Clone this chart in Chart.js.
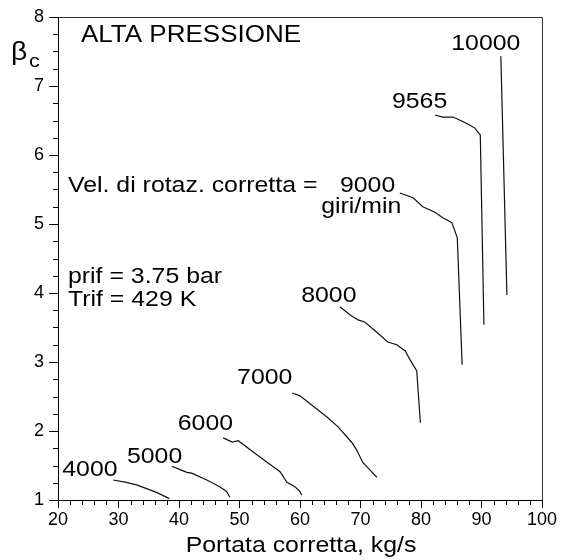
<!DOCTYPE html>
<html>
<head>
<meta charset="utf-8">
<script src="https://cdn.jsdelivr.net/npm/chart.js@4.4.0/dist/chart.umd.min.js"></script>
<style>
    body { margin: 0; background: #fff; }
    #wrap { width: 561px; height: 560px; }
</style>
</head>
<body>
<div id="wrap"><canvas id="chart" width="561" height="560"></canvas></div>
<script>
// corrected speed lines (giri/min)
const speeds = [4000, 5000, 6000, 7000, 8000, 9000, 9565, 10000];

const flow4000 = [29.1, 31.1, 33.0, 36.3, 38.4];
const beta4000 = [1.29, 1.26, 1.22, 1.11, 1.02];

const flow5000 = [38.8, 40.5, 41.3, 42.1, 44.6, 46.8, 47.9, 48.4];
const beta5000 = [1.49, 1.43, 1.40, 1.39, 1.29, 1.19, 1.12, 1.04];

const flow6000 = [47.3, 48.8, 49.8, 52.2, 54.5, 56.7, 57.8, 59.2, 60.0, 60.3];
const beta6000 = [1.90, 1.84, 1.86, 1.70, 1.55, 1.41, 1.26, 1.19, 1.12, 1.07];

const flow7000 = [58.7, 60.0, 62.2, 64.5, 66.3, 68.6, 69.4, 70.4, 71.4, 72.7];
const beta7000 = [2.55, 2.51, 2.36, 2.20, 2.06, 1.83, 1.72, 1.54, 1.45, 1.33];

const flow8000 = [66.6, 68.3, 69.6, 70.7, 72.7, 74.5, 76.0, 77.4, 78.2, 79.3, 79.6, 79.9];
const beta8000 = [3.80, 3.68, 3.61, 3.58, 3.43, 3.29, 3.25, 3.16, 3.03, 2.87, 2.49, 2.12];

const flow9000 = [76.5, 78.7, 80.3, 82.3, 83.6, 85.1, 86.0, 86.8];
const beta9000 = [5.45, 5.38, 5.25, 5.17, 5.09, 5.02, 4.80, 2.96];

const flow9565 = [82.3, 83.6, 85.3, 86.8, 88.1, 88.9, 89.8, 90.4];
const beta9565 = [6.58, 6.55, 6.55, 6.49, 6.43, 6.39, 6.29, 3.54];

const flow10000 = [93.2, 94.2];
const beta10000 = [7.43, 3.97];

const flows = [flow4000, flow5000, flow6000, flow7000, flow8000, flow9000, flow9565, flow10000];
const betas = [beta4000, beta5000, beta6000, beta7000, beta8000, beta9000, beta9565, beta10000];

// where each speed label sits (data units, left / baseline)
const labelFlow = [20.7, 31.4, 39.8, 49.6, 60.2, 66.6, 75.2, 85.0];
const labelBeta = [1.35, 1.54, 2.01, 2.68, 3.87, 5.46, 6.68, 7.52];

const FONT = '"Liberation Sans", Arial, sans-serif';
const STRETCH = 1.13;

const toPoints = (xs, ys) => xs.map((v, i) => ({ x: v, y: ys[i] }));

const datasets = speeds.map((s, i) => ({
    label: String(s),
    data: toPoints(flows[i], betas[i]),
    showLine: true,
    borderColor: '#111',
    borderWidth: 1.2,
    pointRadius: 0,
    tension: 0,
}));

const drawText = (ctx, str, px, py, size, align) => {
    ctx.save();
    ctx.font = `${size}px ${FONT}`;
    ctx.fillStyle = '#000';
    ctx.textBaseline = 'alphabetic';
    ctx.translate(px, py);
    ctx.scale(STRETCH, 1);
    let w = align === 'center' ? ctx.measureText(str).width / 2 : 0;
    ctx.fillText(str, -w, 0);
    ctx.restore();
};

const mapDecor = {
    id: 'mapDecor',
    afterDraw(chart) {
        const { ctx, chartArea: area, scales: { x, y } } = chart;

        // frame top and right
        ctx.save();
        ctx.strokeStyle = '#333';
        ctx.lineWidth = 1;
        ctx.beginPath();
        ctx.moveTo(area.left, area.top + 0.5);
        ctx.lineTo(area.right + 0.5, area.top + 0.5);
        ctx.lineTo(area.right + 0.5, area.bottom);
        ctx.stroke();

        // minor ticks
        ctx.strokeStyle = '#000';
        ctx.beginPath();
        for (let v = 22; v < 100; v += 2) {
            if (v % 10 === 0) continue;
            const px = Math.round(x.getPixelForValue(v)) + 0.5;
            ctx.moveTo(px, area.bottom);
            ctx.lineTo(px, area.bottom + 5);
        }
        for (let v = 1.25; v < 8; v += 0.25) {
            if (Number.isInteger(v)) continue;
            const py = Math.round(y.getPixelForValue(v)) + 0.5;
            ctx.moveTo(area.left - 5, py);
            ctx.lineTo(area.left, py);
        }
        ctx.stroke();
        ctx.restore();

        const at = (xv, yv) => [x.getPixelForValue(xv), y.getPixelForValue(yv)];

        // speed labels
        speeds.forEach((s, i) => {
            const [px, py] = at(labelFlow[i], labelBeta[i]);
            drawText(ctx, String(s), px, py, 22);
        });

        let p;
        p = at(23.8, 7.64);
        drawText(ctx, 'ALTA PRESSIONE', p[0], p[1], 23);
        p = at(21.65, 5.46);
        drawText(ctx, 'Vel. di rotaz. corretta =', p[0], p[1], 22);
        p = at(63.5, 5.16);
        drawText(ctx, 'giri/min', p[0], p[1], 22);
        p = at(21.65, 4.14);
        drawText(ctx, 'prif = 3.75 bar', p[0], p[1], 22);
        p = at(21.65, 3.81);
        drawText(ctx, 'Trif = 429 K', p[0], p[1], 22);

        // axis titles
        drawText(ctx, 'Portata corretta, kg/s', (area.left + area.right) / 2 + 1, area.bottom + 52, 22, 'center');
        drawText(ctx, 'β', area.left - 47, area.top + 43, 25);
        drawText(ctx, 'c', area.left - 29, area.top + 50, 19);
    }
};

new Chart(document.getElementById('chart'), {
    type: 'scatter',
    data: { datasets: datasets },
    options: {
        responsive: false,
        animation: false,
        layout: { padding: { top: 17, right: 19, left: 0, bottom: 0 } },
        plugins: {
            legend: { display: false },
            tooltip: { enabled: false },
        },
        scales: {
            x: {
                type: 'linear',
                min: 20,
                max: 100,
                ticks: { stepSize: 10, color: '#000', padding: 1, maxRotation: 0, font: { family: FONT, size: 18 } },
                grid: { drawOnChartArea: false, drawTicks: true, tickLength: 8, color: '#000' },
                border: { display: true, color: '#000', width: 1 },
                afterFit: (scale) => { scale.height = 60; },
            },
            y: {
                type: 'linear',
                min: 1,
                max: 8,
                ticks: { stepSize: 1, color: '#000', padding: 5, font: { family: FONT, size: 18 } },
                grid: { drawOnChartArea: false, drawTicks: true, tickLength: 9, color: '#000' },
                border: { display: true, color: '#000', width: 1 },
                afterFit: (scale) => { scale.width = 58; },
            },
        },
    },
    plugins: [mapDecor],
});
</script>
</body>
</html>
